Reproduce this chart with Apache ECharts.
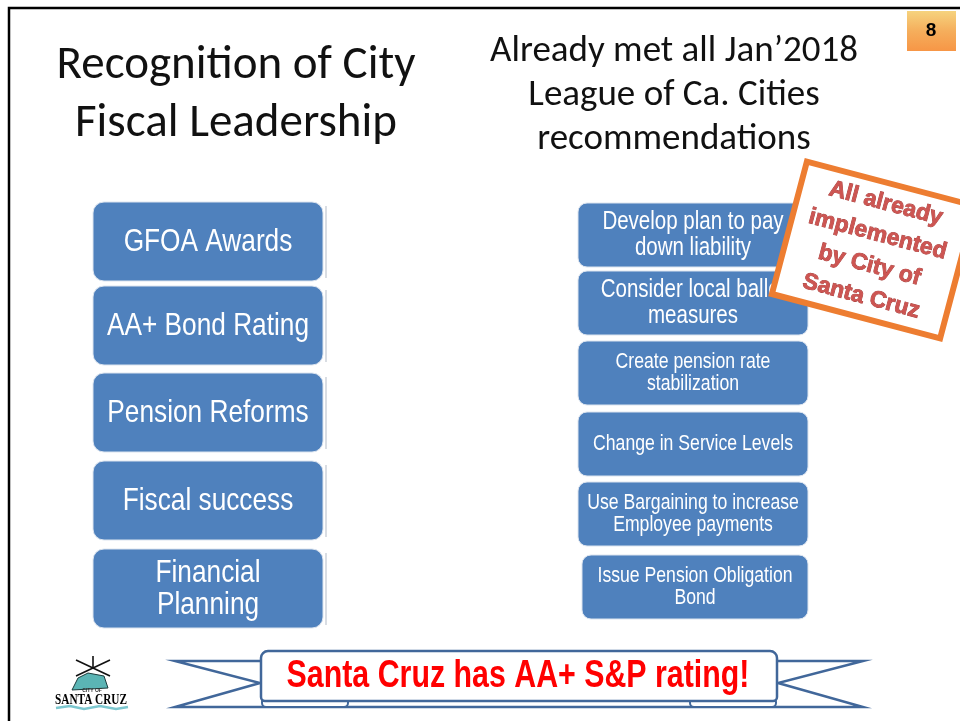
<!DOCTYPE html>
<html>
<head>
<meta charset="utf-8">
<script src="https://cdn.jsdelivr.net/npm/echarts@6/dist/echarts.min.js"></script>
<style>
  html, body { margin: 0; padding: 0; background: #fff; }
  #main { width: 960px; height: 721px; }
</style>
</head>
<body>
<div id="main"></div>
<script>
// slide texts
var titleLines = ['Recognition of City', 'Fiscal Leadership'];
var subTitleLines = ['Already met all Jan\u20192018', 'League of Ca. Cities', 'recommendations'];
var leftItems = ['GFOA Awards', 'AA+ Bond Rating', 'Pension Reforms', 'Fiscal success', 'Financial\nPlanning'];
var rightItems = [
    'Develop plan to pay\ndown liability',
    'Consider local ballot\nmeasures',
    'Create pension rate\nstabilization',
    'Change in Service Levels',
    'Use Bargaining to increase\nEmployee payments',
    'Issue Pension Obligation\nBond'
];
var stampText = 'All already\nimplemented\nby City of\nSanta Cruz';
var bannerText = 'Santa Cruz has AA+ S&P rating!';
var pageNo = '8';

// layout
var leftTops = [202, 286, 373, 461, 549];
var rightTops = [203, 271, 341, 412, 482, 555];
var rightFont = [25, 25, 21.5, 21.5, 21.5, 21.5];
var boxBlue = '#4F81BD';
var ribbonBlue = '#41679A';
var sans = '"Liberation Sans", Arial, sans-serif';
var narrowX = 0.82;   // no narrow font installed, squeeze Arial instead
var titleFont = 'Carlito, Lato, "Open Sans", sans-serif';

var myChart = echarts.init(document.getElementById('main'), null, {renderer: 'canvas'});

function buildGraphic() {
    var els = [];
    // slide frame
    els.push({type: 'polyline', silent: true, shape: {points: [[9, 721], [9, 8], [960, 8]]},
        style: {stroke: '#000', lineWidth: 2.5, fill: null}});

    // titles
    for (var i = 0; i < titleLines.length; i++) {
        els.push({type: 'text', x: 236, y: 66 + i * 58, style: {text: titleLines[i], fill: '#111',
            font: '400 47px ' + titleFont, textAlign: 'center', textVerticalAlign: 'middle'}});
    }
    for (var i = 0; i < subTitleLines.length; i++) {
        els.push({type: 'text', x: 674, y: 52 + i * 44, style: {text: subTitleLines[i], fill: '#111',
            font: '400 37px ' + titleFont, textAlign: 'center', textVerticalAlign: 'middle'}});
    }

    // page badge
    els.push({type: 'rect', shape: {x: 907, y: 11, width: 49, height: 40},
        style: {fill: new echarts.graphic.LinearGradient(0, 0, 0, 1, [
            {offset: 0, color: '#F6D37E'}, {offset: 0.5, color: '#F5AE5C'}, {offset: 1, color: '#F79646'}])}});
    els.push({type: 'text', x: 931, y: 31, style: {text: pageNo, fill: '#000',
        font: 'bold 19px ' + sans, textAlign: 'center', textVerticalAlign: 'middle'}});

    // left column
    for (var i = 0; i < leftItems.length; i++) {
        var y0 = leftTops[i];
        els.push({type: 'rect', shape: {x: 325, y: y0 + 4, width: 2, height: 72}, style: {fill: '#D9DDE3'}});
        els.push({type: 'rect', shape: {x: 93, y: y0, width: 230, height: 79, r: 11},
            style: {fill: boxBlue, stroke: '#DCE4EF', lineWidth: 1}});
        els.push({type: 'text', x: 208, y: y0 + 40, scaleX: narrowX, style: {text: leftItems[i], fill: '#fff',
            font: '32px ' + sans, lineHeight: 32, textAlign: 'center', textVerticalAlign: 'middle'}});
    }

    // right column
    for (var i = 0; i < rightItems.length; i++) {
        var y1 = rightTops[i];
        var x1 = i == 5 ? 582 : 578;
        els.push({type: 'rect', shape: {x: x1, y: y1, width: 808 - x1, height: 64, r: 9},
            style: {fill: boxBlue, stroke: '#DCE4EF', lineWidth: 1}});
        els.push({type: 'text', x: (x1 + 808) / 2, y: y1 + 32, scaleX: narrowX, style: {text: rightItems[i], fill: '#fff',
            font: rightFont[i] + 'px ' + sans, lineHeight: rightFont[i] + 1,
            textAlign: 'center', textVerticalAlign: 'middle'}});
    }

    // stamp
    els.push({type: 'group', x: 873.5, y: 250, rotation: -14.8 * Math.PI / 180, children: [
        {type: 'rect', shape: {x: -87, y: -68.5, width: 174, height: 137},
            style: {fill: '#fff', stroke: '#ED7D31', lineWidth: 6}},
        {type: 'text', x: 0, y: 0, style: {text: stampText, fill: '#CD5552', stroke: '#A33A37', lineWidth: 0.8,
            font: 'bold 23px ' + sans, lineHeight: 32,
            textAlign: 'center', textVerticalAlign: 'middle'}}
    ]});

    // ribbon banner
    var rs = {stroke: ribbonBlue, lineWidth: 2.5, fill: null};
    els.push({type: 'polyline', shape: {points: [[262, 661], [175, 661], [260, 683], [175, 707], [863, 707], [778, 683], [863, 661], [776, 661]]}, style: rs});
    // folded ends under the scroll
    els.push({type: 'rect', shape: {x: 262, y: 698, width: 86, height: 9, r: 4}, style: {fill: '#fff', stroke: ribbonBlue, lineWidth: 2}});
    els.push({type: 'rect', shape: {x: 690, y: 698, width: 86, height: 9, r: 4}, style: {fill: '#fff', stroke: ribbonBlue, lineWidth: 2}});
    els.push({type: 'rect', shape: {x: 261, y: 651, width: 516, height: 50, r: [7, 7, 4, 4]},
        style: {fill: '#fff', stroke: ribbonBlue, lineWidth: 2.5}});
    els.push({type: 'text', x: 518, y: 676, scaleX: 0.82, scaleY: 1.06, style: {text: bannerText, fill: '#FF0000',
        font: 'bold 37px ' + sans, textAlign: 'center', textVerticalAlign: 'middle'}});

    // city logo (rough)
    var lk = {stroke: '#111', lineWidth: 1.6};
    els.push({type: 'line', shape: {x1: 76, y1: 660, x2: 110, y2: 676}, style: lk});
    els.push({type: 'line', shape: {x1: 76, y1: 676, x2: 110, y2: 660}, style: lk});
    els.push({type: 'line', shape: {x1: 93, y1: 656, x2: 93, y2: 668}, style: lk});
    els.push({type: 'polygon', shape: {points: [[72, 690], [78, 678], [88, 673], [104, 676], [108, 688]]}, style: {fill: '#5BB5B5', stroke: '#1B3B3B', lineWidth: 1}});
    els.push({type: 'text', x: 92, y: 691, style: {text: 'CITY OF', fill: '#333', font: 'bold 5px sans-serif', textAlign: 'center', textVerticalAlign: 'middle'}});
    els.push({type: 'text', x: 91, y: 700, scaleX: 0.75, style: {text: 'SANTA CRUZ', fill: '#000', font: 'bold 15px "Liberation Serif", serif', textAlign: 'center', textVerticalAlign: 'middle'}});
    els.push({type: 'polyline', shape: {points: [[56, 708], [70, 706], [84, 709], [100, 706], [116, 709], [128, 707]]}, style: {stroke: '#7CC7CF', lineWidth: 2.5, fill: null}});
    return els;
}

var option = {
    backgroundColor: '#fff',
    animation: false,
    series: [],
    graphic: {elements: buildGraphic()}
};
myChart.setOption(option);
</script>
</body>
</html>
